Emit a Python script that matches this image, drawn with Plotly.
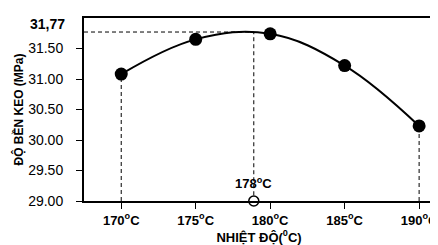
import plotly.graph_objects as go

temps = [170, 175, 180, 185, 190]
strength = [31.08, 31.65, 31.74, 31.22, 30.23]
opt_temp = 178.9
opt_strength = 31.77
x_ticks = [170, 175, 180, 185, 190]
x_tick_labels = ["170<sup>o</sup>C", "175<sup>o</sup>C", "180<sup>o</sup>C", "185<sup>o</sup>C", "190<sup>o</sup>C"]
y_ticks = [29.0, 29.5, 30.0, 30.5, 31.0, 31.5]
y_tick_labels = ["29.00", "29.50", "30.00", "30.50", "31.00", "31.50"]

font = "Liberation Sans, Arial, sans-serif"
fig = go.Figure()

# dashed guide lines
dash = dict(color="black", width=1, dash="4px,3px")
fig.add_trace(go.Scatter(x=[temps[0], temps[0]], y=[29, strength[0]], mode="lines", line=dash, hoverinfo="skip"))
fig.add_trace(go.Scatter(x=[temps[-1], temps[-1]], y=[29, strength[-1]], mode="lines", line=dash, hoverinfo="skip"))
fig.add_trace(go.Scatter(x=[167.5, opt_temp, opt_temp], y=[opt_strength, opt_strength, 29], mode="lines", line=dash, hoverinfo="skip"))

fig.add_trace(go.Scatter(x=temps, y=strength, mode="lines+markers",
                         line=dict(color="black", width=2, shape="spline", smoothing=1.1),
                         marker=dict(color="black", size=13)))
fig.add_trace(go.Scatter(x=[opt_temp], y=[29], mode="markers",
                         marker=dict(color="white", size=10, line=dict(color="black", width=1.5)),
                         cliponaxis=False))

fig.add_annotation(x=opt_temp, y=29, yshift=18, text="<b>178<sup>o</sup>C</b>", showarrow=False,
                   font=dict(family=font, size=13, color="black"))
fig.add_annotation(xref="paper", x=0, xanchor="right", xshift=-17, y=31.9, text="<b>31,77</b>", showarrow=False,
                   font=dict(family=font, size=14, color="black"))

fig.update_layout(
    width=438, height=245,
    margin=dict(l=76, r=8, t=10, b=52),
    paper_bgcolor="white", plot_bgcolor="white",
    showlegend=False,
    font=dict(family=font, size=13, color="black"),
    xaxis=dict(range=[167.5, 191], tickvals=x_ticks, ticktext=["<b>%s</b>" % t for t in x_tick_labels],
               showgrid=False, zeroline=False, showline=True, linecolor="black", linewidth=2, mirror=True,
               ticks="outside", ticklen=6, tickwidth=1, tickcolor="black",
               tickfont=dict(family=font, size=13),
               title=dict(text="<b>NHIỆT ĐỘ(<sup>0</sup>C)</b>", font=dict(family=font, size=13), standoff=6)),
    yaxis=dict(range=[29, 32], tickvals=y_ticks, ticktext=y_tick_labels,
               showgrid=False, zeroline=False, showline=True, linecolor="black", linewidth=2, mirror=True,
               ticks="outside", ticklen=6, tickwidth=1, tickcolor="black", ticklabelstandoff=10,
               tickfont=dict(family=font, size=14),
               title=dict(text="<b>ĐỘ BỀN KEO (MPa)</b>", font=dict(family=font, size=12), standoff=2)),
)

fig.write_html("out.html")
